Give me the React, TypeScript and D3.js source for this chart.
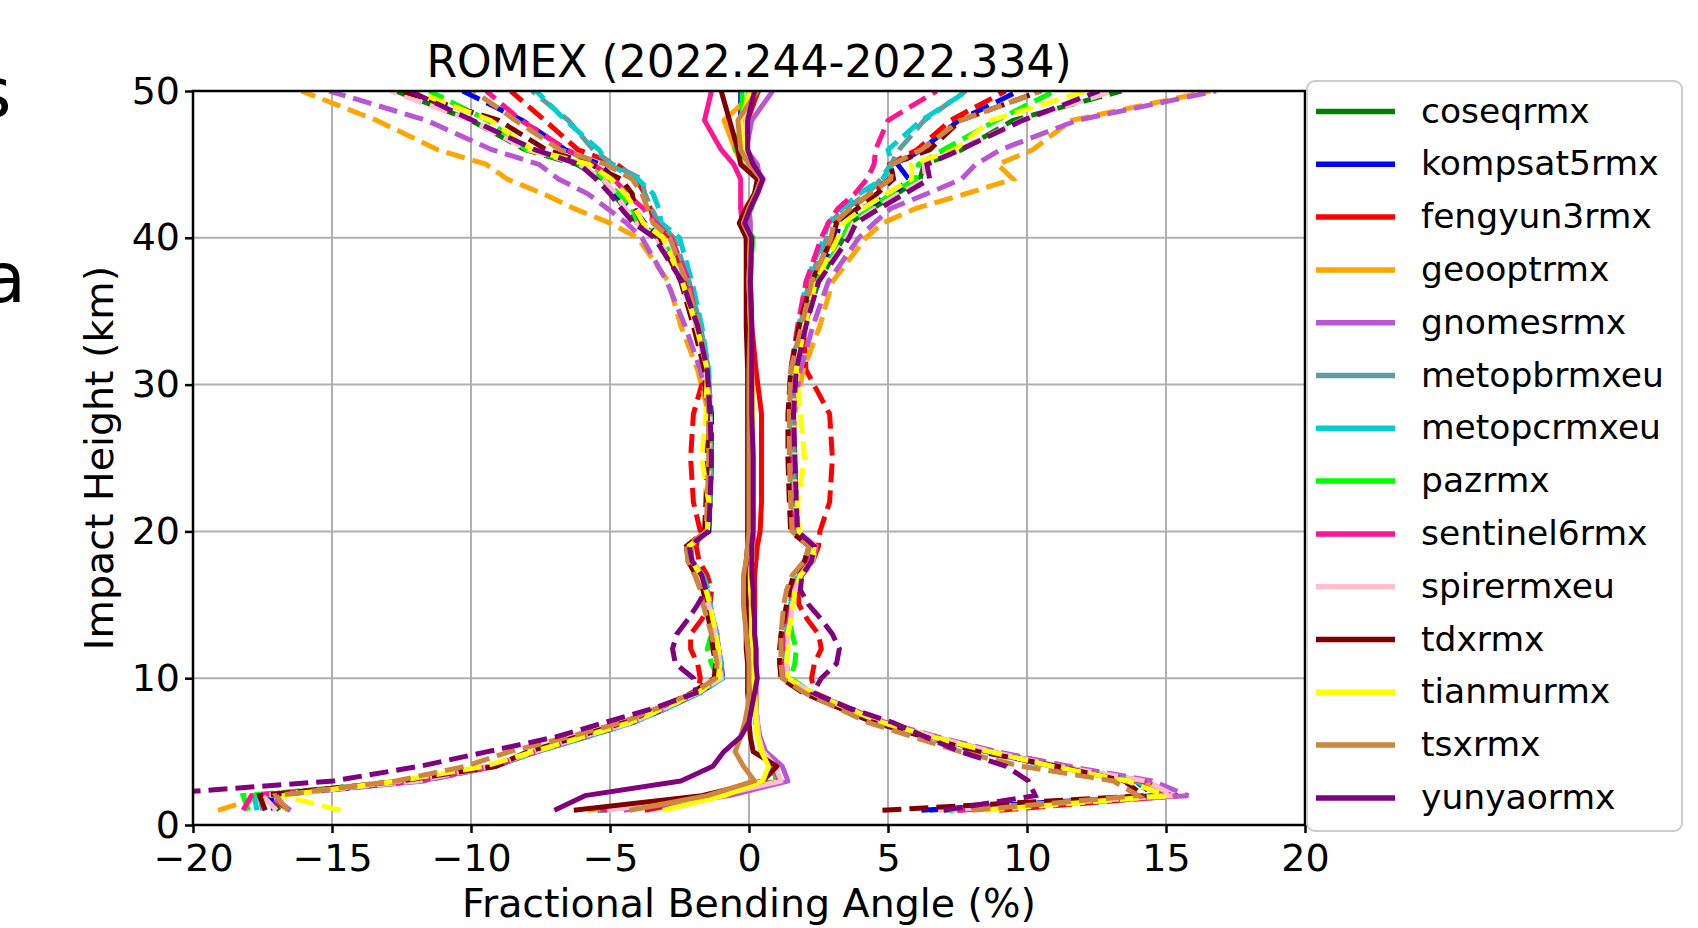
import * as d3 from "d3";
import React, { useRef, useEffect } from "react";

// figure size (px)
const W = 1698;
const H = 928;
const margin = { top: 91, right: 393, bottom: 103, left: 193 };
const FONT = "DejaVu Sans";

// impact heights (km) where profiles are sampled
const heights = [1, 2, 3, 4, 5, 6, 7, 8, 9, 10, 11, 12, 13, 14, 15, 16, 17, 18, 19, 20, 22, 25, 28, 31, 34, 37, 40, 41, 42, 43, 44, 45, 46, 48, 50];

const xTicks = [-20, -15, -10, -5, 0, 5, 10, 15, 20];
const yTicks = [0, 10, 20, 30, 40, 50];

const missions = ["coseqrmx", "kompsat5rmx", "fengyun3rmx", "geooptrmx", "gnomesrmx", "metopbrmxeu", "metopcrmxeu", "pazrmx", "sentinel6rmx", "spirermxeu", "tdxrmx", "tianmurmx", "tsxrmx", "yunyaormx"];
const colors = ["#008000", "#0000ff", "#ff0000", "#ffa500", "#ba55d3", "#5f9ea0", "#00ced1", "#00ff00", "#ff1493", "#ffc0cb", "#800000", "#ffff00", "#cd853f", "#800080"];

// mean fractional bending angle departure (%) and its standard deviation
const coseqrmxMean = [-5.2, -1.25, 1.1, 0.9, 0.5, 0.35, 0.25, 0.2, 0.2, 0.2, 0.15, 0.1, 0.1, 0.05, 0.05, 0.05, 0.05, 0.1, 0.15, 0.15, 0.15, 0.15, 0.1, 0.1, 0.05, 0.05, 0.05, -0.2, 0.0, 0.2, 0.45, 0.05, -0.2, -0.25, 0.35];
const coseqrmxStd = [11.7, 16.05, 13.0, 10.2, 8.2, 6.3, 4.5, 3.25, 2.05, 1.2, 1.2, 1.25, 1.3, 1.4, 1.5, 1.6, 1.8, 2.15, 2.25, 1.6, 1.55, 1.5, 1.5, 1.6, 1.95, 2.45, 3.35, 3.8, 4.45, 5.1, 5.7, 6.25, 7.85, 9.75, 13.05];

const kompsat5rmxMean = [-5.45, -1.3, 1.0, 0.85, 0.45, 0.35, 0.25, 0.25, 0.2, 0.2, 0.15, 0.1, 0.05, 0.05, 0.05, 0.0, 0.0, 0.05, 0.1, 0.1, 0.1, 0.1, 0.1, 0.05, 0.0, 0.0, 0.0, -0.25, -0.05, 0.2, 0.45, 0.0, -0.2, -0.3, -0.3];
const kompsat5rmxStd = [11.65, 15.9, 12.9, 10.0, 8.1, 6.2, 4.4, 3.15, 2.0, 1.15, 1.15, 1.2, 1.25, 1.35, 1.45, 1.55, 1.75, 2.2, 2.25, 1.55, 1.5, 1.45, 1.45, 1.55, 1.9, 2.35, 3.15, 3.5, 4.1, 5.0, 5.3, 5.35, 6.4, 7.85, 10.0];

const fengyun3rmxMean = [-3.75, -1.0, 1.1, 0.9, 0.5, 0.35, 0.3, 0.25, 0.25, 0.25, 0.25, 0.25, 0.2, 0.2, 0.2, 0.2, 0.2, 0.25, 0.3, 0.4, 0.45, 0.45, 0.45, 0.25, 0.1, 0.05, 0.1, -0.15, 0.05, 0.3, 0.5, 0.15, -0.05, -0.05, 0.33];
const fengyun3rmxStd = [12.75, 16.4, 13.1, 10.2, 8.2, 6.3, 4.5, 3.3, 2.1, 2.0, 2.1, 2.35, 2.3, 1.9, 1.6, 1.55, 1.7, 2.05, 2.2, 2.15, 2.45, 2.55, 2.45, 1.8, 1.85, 2.3, 2.9, 3.25, 3.6, 4.05, 4.55, 4.9, 6.1, 7.3, 8.9];

const geooptrmxMean = [-5.8, -1.2, 1.0, 0.9, 0.45, 0.35, 0.25, 0.2, 0.2, 0.15, 0.15, 0.1, 0.1, 0.05, 0.05, 0.05, 0.0, 0.05, 0.1, 0.1, 0.1, 0.1, 0.1, 0.05, 0.05, 0.05, 0.1, -0.1, -0.15, 0.2, 0.4, -0.25, -0.5, -0.9, 0.25];
const geooptrmxStd = [13.3, 16.2, 13.0, 10.1, 8.2, 6.3, 4.5, 3.25, 2.05, 1.2, 1.15, 1.2, 1.25, 1.35, 1.5, 1.6, 1.85, 2.25, 2.3, 1.6, 1.5, 1.5, 1.55, 1.9, 2.5, 2.95, 4.1, 4.9, 6.15, 7.6, 9.1, 9.2, 10.7, 12.5, 16.35];

const gnomesrmxMean = [-4.5, -0.7, 1.4, 1.2, 0.6, 0.4, 0.3, 0.25, 0.2, 0.2, 0.15, 0.1, 0.1, 0.05, 0.05, 0.05, 0.05, 0.1, 0.1, 0.1, 0.1, 0.1, 0.1, 0.05, 0.0, -0.05, 0.05, 0.05, 0.0, 0.3, 0.4, 0.3, -0.1, 0.1, 0.85];
const gnomesrmxStd = [12.0, 16.5, 13.1, 10.3, 8.3, 6.4, 4.6, 3.3, 2.05, 1.2, 1.15, 1.2, 1.25, 1.35, 1.5, 1.6, 1.8, 2.2, 2.3, 1.65, 1.55, 1.5, 1.5, 1.8, 2.3, 2.9, 3.9, 4.45, 5.1, 6.1, 7.25, 7.85, 9.15, 11.7, 15.95];

const metopbrmxeuMean = [-5.25, -1.4, 1.0, 0.85, 0.45, 0.35, 0.25, 0.25, 0.2, 0.2, 0.15, 0.1, 0.1, 0.05, 0.05, 0.05, 0.05, 0.05, 0.1, 0.1, 0.1, 0.1, 0.05, 0.05, 0.05, 0.0, 0.05, -0.2, 0.0, 0.25, 0.45, 0.1, -0.1, -0.1, 0.0];
const metopbrmxeuStd = [12.25, 16.2, 12.95, 10.1, 8.1, 6.25, 4.45, 3.2, 2.0, 1.2, 1.15, 1.2, 1.25, 1.35, 1.45, 1.55, 1.75, 2.1, 2.2, 1.6, 1.5, 1.45, 1.45, 1.5, 1.8, 2.15, 2.75, 3.05, 3.5, 4.0, 4.3, 5.0, 5.5, 6.4, 7.8];

const metopcrmxeuMean = [-5.35, -1.45, 1.0, 0.85, 0.45, 0.35, 0.25, 0.25, 0.2, 0.2, 0.15, 0.1, 0.1, 0.05, 0.05, 0.05, 0.05, 0.05, 0.1, 0.1, 0.1, 0.1, 0.05, 0.05, 0.05, 0.0, 0.1, -0.15, 0.05, 0.25, 0.4, 0.05, -0.2, -0.2, 0.1];
const metopcrmxeuStd = [12.35, 16.35, 12.9, 10.0, 8.05, 6.2, 4.4, 3.15, 1.95, 1.15, 1.15, 1.2, 1.25, 1.35, 1.45, 1.5, 1.7, 2.1, 2.2, 1.6, 1.5, 1.45, 1.45, 1.5, 1.75, 2.05, 2.6, 3.0, 3.3, 3.7, 4.4, 5.1, 5.2, 6.4, 7.75];

const pazrmxMean = [-5.4, -1.6, 1.0, 0.9, 0.5, 0.35, 0.25, 0.25, 0.2, 0.2, 0.15, 0.1, 0.1, 0.05, 0.05, 0.05, 0.05, 0.1, 0.1, 0.1, 0.1, 0.1, 0.05, 0.05, 0.05, 0.0, 0.15, -0.2, 0.1, 0.2, 0.4, 0.1, -0.5, -0.25, -0.25];
const pazrmxStd = [12.6, 16.6, 13.0, 10.1, 8.15, 6.3, 4.5, 3.25, 2.05, 1.3, 1.5, 1.6, 1.45, 1.4, 1.5, 1.6, 1.8, 2.15, 2.25, 1.6, 1.55, 1.5, 1.5, 1.6, 1.95, 2.4, 3.25, 3.8, 4.3, 4.9, 5.6, 6.0, 7.5, 9.15, 11.25];

const sentinel6rmxMean = [-5.35, -1.35, 1.1, 0.9, 0.5, 0.35, 0.25, 0.2, 0.15, 0.1, 0.1, 0.05, 0.05, 0.0, 0.0, 0.0, 0.0, 0.05, 0.05, 0.05, 0.05, 0.05, 0.0, 0.0, -0.05, -0.05, -0.1, -0.25, -0.3, -0.3, -0.3, -0.55, -1.0, -1.6, -1.35];
const sentinel6rmxStd = [12.85, 16.55, 13.0, 10.1, 8.15, 6.3, 4.5, 3.2, 2.0, 1.2, 1.15, 1.2, 1.25, 1.35, 1.45, 1.55, 1.75, 2.1, 2.2, 1.6, 1.5, 1.45, 1.45, 1.5, 1.8, 2.1, 2.7, 3.1, 3.5, 4.1, 4.55, 5.05, 5.55, 6.6, 8.1];

const spirermxeuMean = [-5.1, -1.1, 1.15, 0.95, 0.5, 0.35, 0.3, 0.25, 0.2, 0.2, 0.15, 0.15, 0.1, 0.1, 0.05, 0.05, 0.05, 0.1, 0.1, 0.15, 0.1, 0.1, 0.1, 0.05, 0.05, 0.05, 0.1, -0.15, 0.05, 0.3, 0.55, 0.1, -0.2, -0.1, 0.1];
const spirermxeuStd = [11.9, 16.4, 13.1, 10.2, 8.2, 6.35, 4.5, 3.25, 2.05, 1.2, 1.2, 1.25, 1.3, 1.4, 1.5, 1.6, 1.8, 2.15, 2.3, 1.65, 1.55, 1.55, 1.5, 1.6, 1.95, 2.45, 3.4, 3.9, 4.5, 5.1, 5.8, 6.2, 7.75, 9.9, 13.0];

const tdxrmxMean = [-6.3, -1.7, 0.5, 1.0, 0.15, 0.05, 0.0, 0.0, -0.05, -0.05, -0.05, -0.1, -0.1, -0.1, -0.1, -0.1, -0.15, -0.1, -0.05, -0.05, -0.05, -0.05, -0.05, -0.05, -0.1, -0.1, -0.1, -0.35, -0.1, 0.2, 0.3, -0.3, -0.4, -0.7, -1.0];
const tdxrmxStd = [11.1, 15.9, 13.0, 10.1, 8.1, 6.25, 4.45, 3.2, 2.0, 1.2, 1.15, 1.2, 1.25, 1.35, 1.45, 1.55, 1.75, 2.1, 2.2, 1.55, 1.5, 1.45, 1.45, 1.55, 1.9, 2.35, 3.1, 3.5, 4.0, 4.4, 4.9, 5.4, 6.9, 8.3, 11.5];

const tianmurmxMean = [-3.1, -0.9, 0.5, 0.7, 0.45, 0.3, 0.25, 0.2, 0.2, 0.15, 0.15, 0.15, 0.1, 0.1, 0.1, 0.05, 0.05, 0.1, 0.1, 0.15, 0.15, 0.15, 0.15, 0.1, 0.05, 0.0, 0.05, -0.2, 0.0, 0.25, 0.45, 0.05, -0.2, -0.3, 0.05];
const tianmurmxStd = [11.6, 15.9, 13.1, 10.2, 8.2, 6.3, 4.5, 3.25, 2.05, 1.25, 1.2, 1.25, 1.3, 1.4, 1.5, 1.6, 1.8, 2.15, 2.25, 1.65, 1.6, 1.85, 1.7, 1.6, 1.95, 2.4, 3.15, 3.6, 4.1, 4.7, 5.4, 5.8, 7.6, 9.0, 12.1];

const tsxrmxMean = [-4.3, -1.5, 0.2, -0.2, -0.5, -0.3, -0.15, -0.05, 0.0, 0.0, 0.0, -0.05, -0.1, -0.15, -0.2, -0.2, -0.2, -0.1, -0.05, 0.0, 0.0, 0.0, 0.0, 0.0, 0.05, 0.0, 0.05, -0.2, 0.0, 0.25, 0.45, 0.0, -0.3, -0.4, 0.3];
const tsxrmxStd = [12.3, 15.5, 12.9, 10.0, 8.1, 6.2, 4.4, 3.2, 2.0, 1.2, 1.15, 1.2, 1.25, 1.35, 1.45, 1.55, 1.75, 2.1, 2.2, 1.55, 1.5, 1.45, 1.45, 1.5, 1.85, 2.25, 2.9, 3.25, 3.65, 4.1, 4.65, 5.15, 6.5, 8.0, 10.2];

const yunyaormxMean = [-7.0, -5.9, -2.45, -1.3, -0.9, -0.3, 0.0, 0.1, 0.2, 0.3, 0.25, 0.25, 0.2, 0.2, 0.15, 0.15, 0.1, 0.1, 0.1, 0.15, 0.15, 0.15, 0.1, 0.1, 0.1, 0.05, 0.1, -0.15, 0.05, 0.3, 0.5, 0.15, -0.05, -0.05, 0.2];
const yunyaormxStd = [14.0, 16.2, 12.5, 10.55, 8.5, 6.65, 5.15, 3.45, 2.1, 2.3, 2.9, 3.0, 2.8, 2.4, 2.0, 1.7, 1.8, 2.15, 2.25, 1.6, 1.55, 1.5, 1.5, 1.6, 1.95, 2.45, 3.5, 4.0, 4.65, 5.3, 6.0, 6.25, 7.65, 9.9, 12.4];

const means = [coseqrmxMean, kompsat5rmxMean, fengyun3rmxMean, geooptrmxMean, gnomesrmxMean, metopbrmxeuMean, metopcrmxeuMean, pazrmxMean, sentinel6rmxMean, spirermxeuMean, tdxrmxMean, tianmurmxMean, tsxrmxMean, yunyaormxMean];
const stds = [coseqrmxStd, kompsat5rmxStd, fengyun3rmxStd, geooptrmxStd, gnomesrmxStd, metopbrmxeuStd, metopcrmxeuStd, pazrmxStd, sentinel6rmxStd, spirermxeuStd, tdxrmxStd, tianmurmxStd, tsxrmxStd, yunyaormxStd];

type Pt = { h: number; v: number };

export default function App() {
  const ref = useRef<SVGSVGElement>(null);

  useEffect(() => {
    const svg = d3.select(ref.current);
    svg.selectAll("*").remove();

    const x = d3.scaleLinear().domain([-20, 20]).range([margin.left, W - margin.right]);
    const y = d3.scaleLinear().domain([0, 50]).range([H - margin.bottom, margin.top]);

    svg.append("rect").attr("width", W).attr("height", H).attr("fill", "#fff");

    // grid
    const grid = svg.append("g").attr("stroke", "#b0b0b0").attr("stroke-width", 2);
    grid.selectAll("line.gx").data(xTicks).join("line").attr("class", "gx")
      .attr("x1", (d) => x(d)).attr("x2", (d) => x(d)).attr("y1", y(0)).attr("y2", y(50));
    grid.selectAll("line.gy").data(yTicks).join("line").attr("class", "gy")
      .attr("x1", x(-20)).attr("x2", x(20)).attr("y1", (d) => y(d)).attr("y2", (d) => y(d));

    svg.append("clipPath").attr("id", "plotclip").append("rect")
      .attr("x", x(-20)).attr("y", y(50)).attr("width", x(20) - x(-20)).attr("height", y(0) - y(50));

    const line = d3.line<Pt>().x((d) => x(d.v)).y((d) => y(d.h));
    const plot = svg.append("g").attr("clip-path", "url(#plotclip)").attr("fill", "none");

    missions.forEach((name, k) => {
      const m = means[k];
      const s = stds[k];
      const mid = heights.map((h, i) => ({ h, v: m[i] }));
      const lo = heights.map((h, i) => ({ h, v: m[i] - s[i] }));
      const hi = heights.map((h, i) => ({ h, v: m[i] + s[i] }));
      plot.append("path").attr("d", line(mid)).attr("stroke", colors[k]).attr("stroke-width", 5)
        .attr("stroke-linejoin", "round");
      [lo, hi].forEach((pts) => {
        plot.append("path").attr("d", line(pts)).attr("stroke", colors[k]).attr("stroke-width", 5)
          .attr("stroke-dasharray", "19 8");
      });
    });

    // frame
    svg.append("rect").attr("x", x(-20)).attr("y", y(50))
      .attr("width", x(20) - x(-20)).attr("height", y(0) - y(50))
      .attr("fill", "none").attr("stroke", "#000").attr("stroke-width", 2.5);

    // axes
    const gx = svg.append("g").attr("transform", "translate(0," + y(0) + ")")
      .call(d3.axisBottom(x).tickValues(xTicks).tickSize(8).tickSizeOuter(0).tickPadding(11));
    gx.select(".domain").remove();
    gx.attr("font-size", 38).attr("font-family", FONT);
    gx.selectAll("line").attr("stroke", "#000").attr("stroke-width", 2.5);
    gx.selectAll("text").attr("fill", "#000");

    const gy = svg.append("g").attr("transform", "translate(" + x(-20) + ",0)")
      .call(d3.axisLeft(y).tickValues(yTicks).tickSize(8).tickSizeOuter(0).tickPadding(5));
    gy.select(".domain").remove();
    gy.attr("font-size", 38).attr("font-family", FONT);
    gy.selectAll("line").attr("stroke", "#000").attr("stroke-width", 2.5);
    gy.selectAll("text").attr("fill", "#000");

    // labels
    svg.append("text").attr("x", (x(-20) + x(20)) / 2).attr("y", 77).attr("text-anchor", "middle")
      .attr("font-family", FONT).attr("font-size", 44).text("ROMEX (2022.244-2022.334)");
    svg.append("text").attr("x", (x(-20) + x(20)) / 2).attr("y", 917).attr("text-anchor", "middle")
      .attr("font-family", FONT).attr("font-size", 39.5).text("Fractional Bending Angle (%)");
    svg.append("text").attr("transform", "translate(113," + (y(0) + y(50)) / 2 + ") rotate(-90)")
      .attr("text-anchor", "middle").attr("font-family", FONT).attr("font-size", 39.5)
      .text("Impact Height (km)");

    // cut-off text from neighbouring panel
    svg.append("text").attr("x", -25).attr("y", 117).attr("font-family", FONT).attr("font-size", 70).text("s");
    svg.append("text").attr("x", -17).attr("y", 302).attr("font-family", FONT).attr("font-size", 70).text("a");

    // legend
    const lg = svg.append("g").attr("font-family", FONT);
    lg.append("rect").attr("x", 1307).attr("y", 81).attr("width", 375).attr("height", 750).attr("rx", 8)
      .attr("fill", "#fff").attr("fill-opacity", 0.8).attr("stroke", "#cccccc").attr("stroke-width", 2);
    missions.forEach((name, k) => {
      const yy = 111.5 + k * 52.8;
      lg.append("line").attr("x1", 1316).attr("x2", 1395).attr("y1", yy).attr("y2", yy)
        .attr("stroke", colors[k]).attr("stroke-width", 5.5);
      lg.append("text").attr("x", 1421).attr("y", yy + 11).attr("font-size", 34.5).text(name);
    });
  }, []);

  return (
    <svg ref={ref} width={W} height={H} style={{ position: "absolute", left: 0, top: 0 }}></svg>
  );
}
